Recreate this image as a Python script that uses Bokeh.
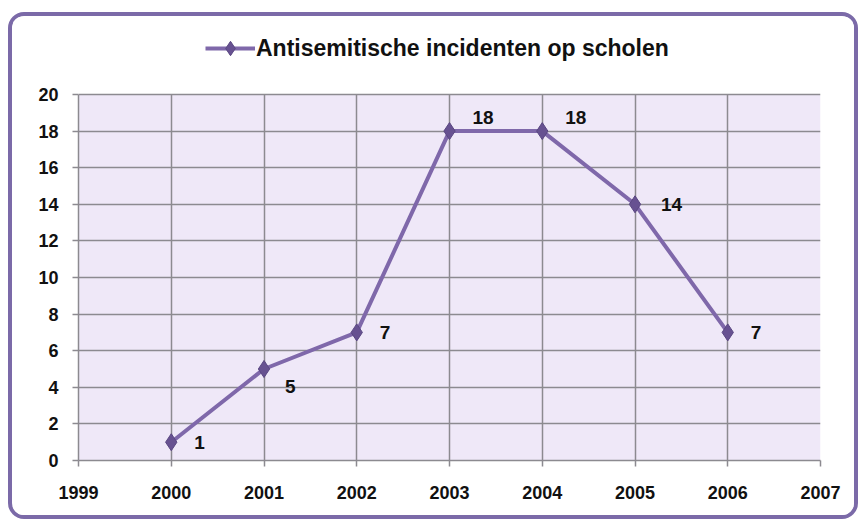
from bokeh.plotting import figure
from bokeh.models import (ColumnDataSource, Legend, LegendItem, FixedTicker, Range1d,
                          BoxAnnotation)
from bokeh.core.properties import value
from bokeh.embed import file_html
from bokeh.resources import INLINE

years = [2000, 2001, 2002, 2003, 2004, 2005, 2006]
incidents = [1, 5, 7, 18, 18, 14, 7]
labels = [str(v) for v in incidents]
series_name = "Antisemitische incidenten op scholen"
x_ticks = [1999, 2000, 2001, 2002, 2003, 2004, 2005, 2006, 2007]
y_ticks = [0, 2, 4, 6, 8, 10, 12, 14, 16, 18, 20]

# label offsets (style, screen pixels)
lab_dx = [23, 21, 23, 23, 23, 26, 23]
lab_dy = [0, 17, 0, -14, -14, 0, 0]

FONT = "Liberation Sans"
GRID = "#8c8a90"
LINE = "#7f68aa"
MARK = "#675191"
LAVENDER = "#efe8f8"

W, H = 850, 507
MB_LEFT, MB_RIGHT, MB_TOP, MB_BOTTOM = 66, 42, 0, 63
PLOT_PX = 366          # pixel height of the 0..20 plot area
frame_h = H - MB_TOP - MB_BOTTOM
y_top = y_ticks[-1] * frame_h / PLOT_PX   # extra room above for the legend

src = ColumnDataSource(dict(x=years, y=incidents, t=labels, dx=lab_dx, dy=lab_dy))

p = figure(width=W, height=H, output_backend="svg", toolbar_location=None,
           x_range=Range1d(x_ticks[0], x_ticks[-1]), y_range=Range1d(y_ticks[0], y_top),
           min_border_left=MB_LEFT, min_border_right=MB_RIGHT,
           min_border_top=MB_TOP, min_border_bottom=MB_BOTTOM)
p.styles = {"border": "4px solid #7b6aa8", "border-radius": "16px",
            "margin-top": "12px", "margin-left": "8px", "overflow": "hidden",
            "box-sizing": "border-box"}
p.background_fill_color = "#ffffff"
p.border_fill_color = "#ffffff"
p.outline_line_color = None

# lavender plot area (0..20)
p.add_layout(BoxAnnotation(top=y_ticks[-1], fill_color=LAVENDER, fill_alpha=1,
                           line_color=None, level="image"))

for ax, ticks in ((p.xaxis, x_ticks), (p.yaxis, y_ticks)):
    ax.ticker = FixedTicker(ticks=ticks)
    ax.axis_line_color = GRID
    ax.axis_line_width = 1.5
    ax.major_tick_line_color = GRID
    ax.major_tick_line_width = 1.5
    ax.major_tick_out = 6
    ax.major_tick_in = 0
    ax.minor_tick_line_color = None
    ax.major_label_text_font = FONT
    ax.major_label_text_font_style = "bold"
    ax.major_label_text_font_size = "18px"
    ax.major_label_text_color = "#111111"
p.yaxis.bounds = (y_ticks[0], y_ticks[-1])
p.xaxis.major_label_standoff = 19
p.yaxis.major_label_standoff = 14

p.xgrid.ticker = FixedTicker(ticks=x_ticks)
p.ygrid.ticker = FixedTicker(ticks=y_ticks)
for g in (p.xgrid, p.ygrid):
    g.grid_line_color = GRID
    g.grid_line_width = 1.5

covered = False
try:
    p.xgrid.cross_bounds = (y_ticks[0], y_ticks[-1])
except Exception:
    covered = True
if covered:
    p.add_layout(BoxAnnotation(bottom=y_ticks[-1], fill_color="#ffffff", fill_alpha=1,
                               line_color=None, level="underlay"))

ln = p.line("x", "y", source=src, line_color=LINE, line_width=4)
mk = p.scatter("x", "y", source=src, marker="diamond", size=17,
               fill_color=MARK, line_color="#5a4782", line_width=1)

p.text("x", "y", text="t", source=src, x_offset="dx", y_offset="dy",
       text_font=value(FONT), text_font_style="bold", text_font_size="19px",
       text_color="#111111", text_align="left", text_baseline="middle")

legend = Legend(items=[LegendItem(label=series_name, renderers=[ln, mk])],
                location=(127, 394), orientation="horizontal",
                glyph_width=50, glyph_height=36, label_standoff=1,
                label_text_font=FONT, label_text_font_style="bold",
                label_text_font_size="23px", label_text_color="#111111",
                background_fill_alpha=0, border_line_color=None,
                padding=2, margin=0)
p.add_layout(legend, "center")

open("out.html", "w").write(file_html(p, INLINE))
